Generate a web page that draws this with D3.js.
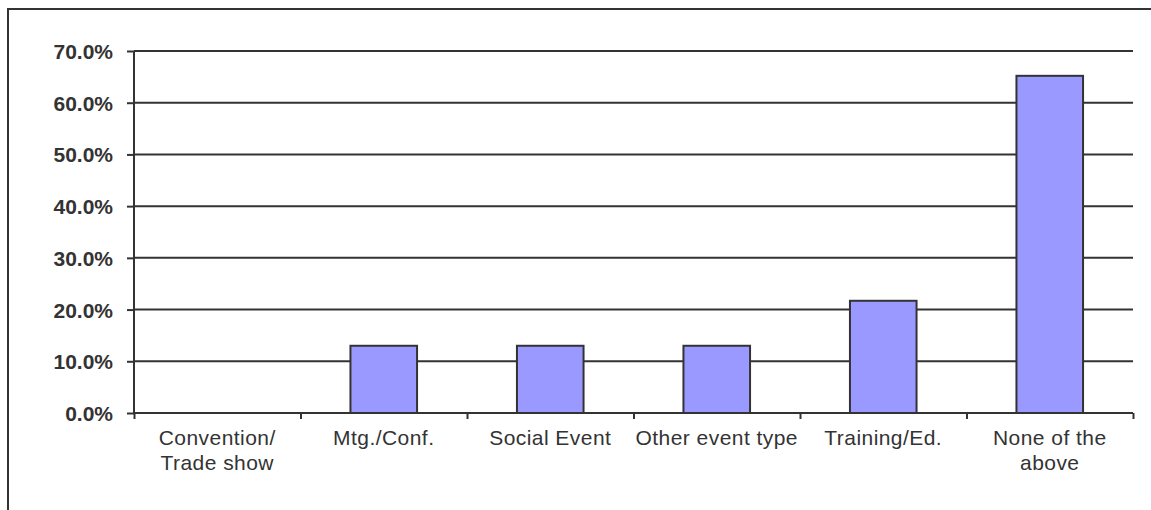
<!DOCTYPE html>
<html>
<head>
<meta charset="utf-8">
<script src="https://cdn.jsdelivr.net/npm/d3@7"></script>
<style>
  html, body { margin: 0; padding: 0; background: #ffffff; }
  svg { display: block; }
</style>
</head>
<body>
<svg id="chart" width="1151" height="510"></svg>
<script>
// ---- data ----
const categories = ["Convention/ Trade show", "Mtg./Conf.", "Social Event", "Other event type", "Training/Ed.", "None of the above"];
const categoryLines = [["Convention/", "Trade show"], ["Mtg./Conf."], ["Social Event"], ["Other event type"], ["Training/Ed."], ["None of the", "above"]];
const values = [0, 13.0, 13.0, 13.0, 21.7, 65.2];
const yTicks = [0, 10, 20, 30, 40, 50, 60, 70];

// ---- layout ----
const W = 1151, H = 510;
const plot = { left: 134, right: 1133, top: 51, bottom: 413 };
const ink = "#333333";
const font = "'Liberation Sans', Arial, sans-serif";

const svg = d3.select("#chart");

// outer frame (extends beyond the visible picture on right & bottom)
svg.append("rect")
  .attr("x", 8).attr("y", 9)
  .attr("width", 1200).attr("height", 560)
  .attr("fill", "none").attr("stroke", ink).attr("stroke-width", 2);

const x = d3.scaleBand().domain(categories).range([plot.left, plot.right]).padding(0);
const xi = d3.scaleLinear().domain([0, categories.length]).range([plot.left, plot.right]);
const y = d3.scaleLinear().domain([0, 70]).range([plot.bottom, plot.top]);

// gridlines
svg.append("g").selectAll("line").data(yTicks.filter(t => t > 0)).join("line")
  .attr("x1", plot.left).attr("x2", plot.right)
  .attr("y1", d => y(d)).attr("y2", d => y(d))
  .attr("stroke", ink).attr("stroke-width", 2);

// bars
svg.append("g").selectAll("rect").data(values.map((v, i) => ({ c: categories[i], v })))
  .join("rect")
  .filter(d => d.v > 0)
  .attr("x", d => x(d.c) + x.bandwidth() * 0.3)
  .attr("width", x.bandwidth() * 0.4)
  .attr("y", d => y(d.v))
  .attr("height", d => y(0) - y(d.v))
  .attr("fill", "#9999FF")
  .attr("stroke", ink).attr("stroke-width", 2);

// y axis
const yAxis = svg.append("g")
  .attr("transform", `translate(${plot.left},0)`)
  .call(d3.axisLeft(y).tickValues(yTicks).tickSize(7).tickPadding(14)
    .tickFormat(d => d.toFixed(1) + "%"));
yAxis.select(".domain").attr("stroke", ink).attr("stroke-width", 2).attr("d", `M0,${plot.top}V${plot.bottom}`);
yAxis.selectAll(".tick line").attr("stroke", ink).attr("stroke-width", 2);
yAxis.selectAll(".tick text")
  .attr("fill", ink).attr("font-family", font).attr("font-size", 21).attr("font-weight", "bold")
  .attr("dy", "0.36em");

// x axis (ticks at category boundaries)
const xAxis = svg.append("g")
  .attr("transform", `translate(0,${plot.bottom})`)
  .call(d3.axisBottom(xi).tickValues(d3.range(0, categories.length + 1)).tickSize(6).tickFormat(""));
xAxis.select(".domain").attr("stroke", ink).attr("stroke-width", 2).attr("d", `M${plot.left},0H${plot.right}`);
xAxis.selectAll(".tick line").attr("stroke", ink).attr("stroke-width", 2);

// x labels
const lbl = svg.append("g").selectAll("text").data(categories).join("text")
  .attr("x", d => x(d) + x.bandwidth() / 2)
  .attr("y", 445)
  .attr("text-anchor", "middle")
  .attr("letter-spacing", "0.45px")
  .attr("fill", ink).attr("font-family", font).attr("font-size", 21);
lbl.each(function(d, i) {
  const t = d3.select(this);
  categoryLines[i].forEach((line, j) => {
    t.append("tspan").attr("x", x(d) + x.bandwidth() / 2).attr("dy", j === 0 ? 0 : 24.5).text(line);
  });
});
</script>
</body>
</html>
